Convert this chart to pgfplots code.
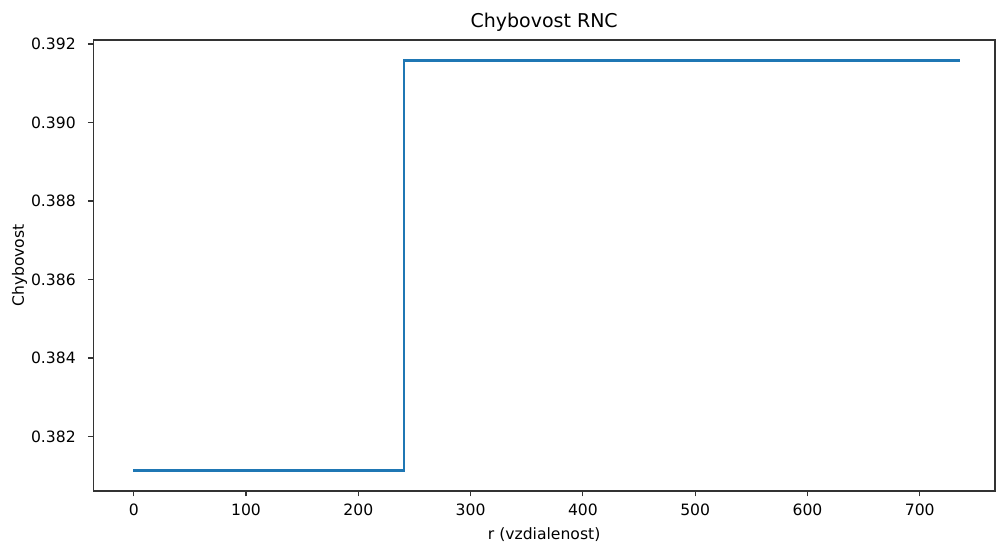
\documentclass[border=0pt]{standalone}
\usepackage{pgfplots}
\pgfplotsset{compat=1.18}
\usepackage{fontspec}
\setmainfont{DejaVu Sans}
\definecolor{tabblue}{HTML}{1F77B4}
\begin{document}
\begin{tikzpicture}[x=1pt,y=1pt]
\path[use as bounding box] (0,0) rectangle (996,542);
\begin{axis}[
  at={(93.3pt,51pt)}, anchor=south west,
  scale only axis, width=901.7pt, height=451pt,
  xmin=-36, xmax=767,
  ymin=0.380612, ymax=0.392104,
  xtick={0,100,...,700},
  ytick={0.382,0.384,0.386,0.388,0.390,0.392},
  yticklabel style={/pgf/number format/fixed,/pgf/number format/fixed zerofill,/pgf/number format/precision=3},
  scaled y ticks=false,
  /pgf/number format/assume math mode=true,
  tick align=outside, tick pos=left,
  major tick length=5.4pt,
  every tick/.style={line width=1.2pt, black!80},
  axis line style={line width=1.2pt, black!80},
  ticklabel style={font=\fontsize{15.6}{18}\selectfont, inner sep=0pt},
  yticklabel style={anchor=east, xshift=-12pt},
  xticklabel style={anchor=base, yshift=-19.5pt},
  title={Chybovost RNC},
  title style={font=\fontsize{19}{22}\selectfont, at={(axis description cs:0.5,1.014)}, anchor=base, inner sep=0pt},
  xlabel={r (vzdialenost)},
  ylabel={Chybovost},
  label style={font=\fontsize{15.6}{18}\selectfont, inner sep=0pt},
  xlabel style={at={(axis description cs:0.5,-0.108)}, anchor=base},
  ylabel style={at={(axis description cs:-0.0769,0.5)}, anchor=base},
]
\addplot[const plot, tabblue, line width=2.3pt, line cap=rect] coordinates {
  (0,0.381134) (241,0.391582) (735,0.391582)
};
\end{axis}
\end{tikzpicture}
\end{document}
